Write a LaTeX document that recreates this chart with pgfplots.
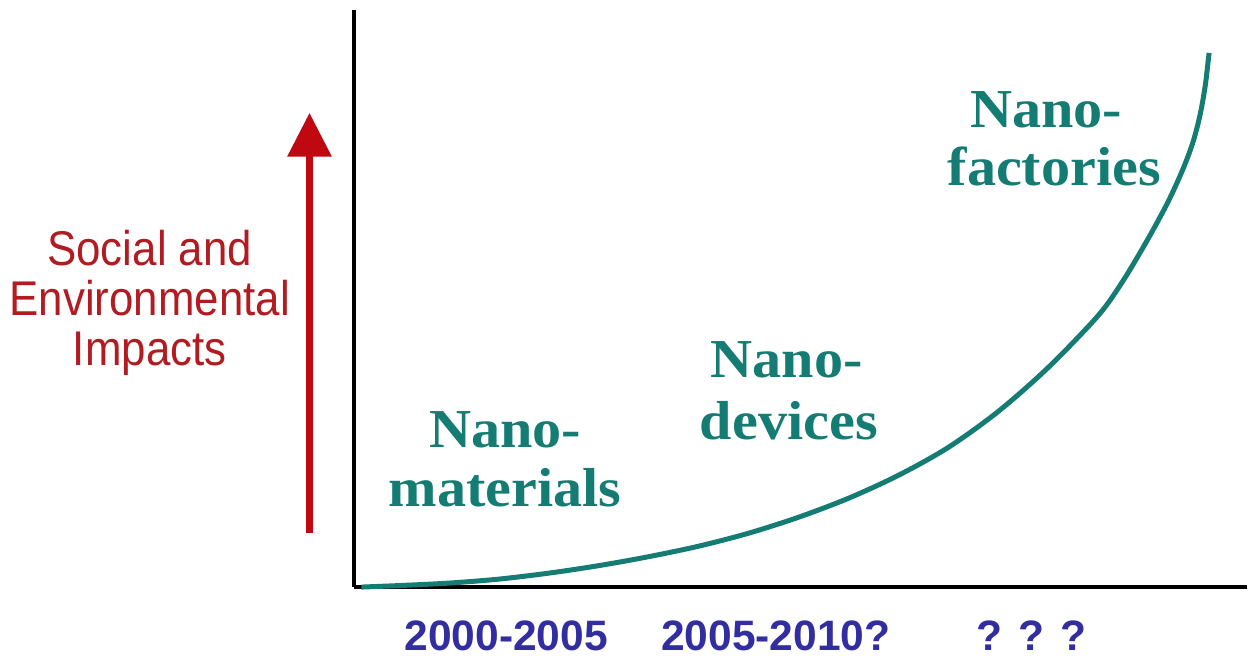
\documentclass[border=0pt]{standalone}
\usepackage{fontspec}
\setmainfont{Liberation Sans}
\newfontfamily\labelfont{Liberation Sans}[FakeStretch=0.9]
\newfontfamily\tnr{Liberation Serif}[FakeStretch=1.06]
\usepackage{pgfplots}
\pgfplotsset{compat=1.18}
\usetikzlibrary{arrows.meta}
\definecolor{nanoteal}{RGB}{20,124,114}
\definecolor{labelblue}{RGB}{50,46,160}
\definecolor{textred}{RGB}{176,28,34}
\definecolor{arrowred}{RGB}{192,8,16}
\begin{document}
\begin{tikzpicture}
\begin{axis}[
  x=0.5pt, y=0.5pt,
  xmin=355, xmax=1249, ymin=71, ymax=649,
  axis lines=left,
  axis line style={-, line width=2pt, black},
  xtick={507,777,1033},
  xticklabels={2000-2005,2005-2010?,? ? ?},
  ytick=\empty,
  major tick length=0pt,
  xticklabel style={font=\bfseries\fontsize{21.3}{24}\selectfont, text=labelblue, anchor=base, inner sep=0pt, yshift=-32pt},
  clip=false,
]
\addplot[color=nanoteal, line width=2.5pt, smooth, tension=0.5] coordinates {
  (362,71) (400,72.5) (450,75) (500,79) (550,85) (600,92.5) (650,101.5)
  (700,112) (750,125) (800,141) (850,160) (900,183) (950,211) (1000,247)
  (1050,291) (1100,343) (1125,378) (1150,420) (1170,457) (1185,490)
  (1195,517) (1202,544) (1207,572) (1210,597) (1211,606)
};
\draw[color=arrowred, line width=3.5pt, -{Triangle[width=21.5pt,length=22pt]}]
  (axis cs:310,125) -- (axis cs:310,546);
\node[align=center, inner sep=0pt, text=textred, font=\labelfont\fontsize{24.4}{25}\selectfont]
  at (axis cs:150,356) {Social and\\Environmental\\Impacts};
\begin{scope}[every node/.style={anchor=base, inner sep=0pt, text=nanoteal, font=\tnr\bfseries\fontsize{27.5}{30}\selectfont}]
\node at (axis cs:506,211) {Nano-};
\node at (axis cs:506,152) {materials};
\node at (axis cs:788,281) {Nano-};
\node at (axis cs:790,219) {devices};
\node at (axis cs:1048,531) {Nano-};
\node at (axis cs:1056,473) {factories};
\end{scope}
\path (axis cs:0,0) rectangle (axis cs:1249,659);
\end{axis}
\end{tikzpicture}
\end{document}
